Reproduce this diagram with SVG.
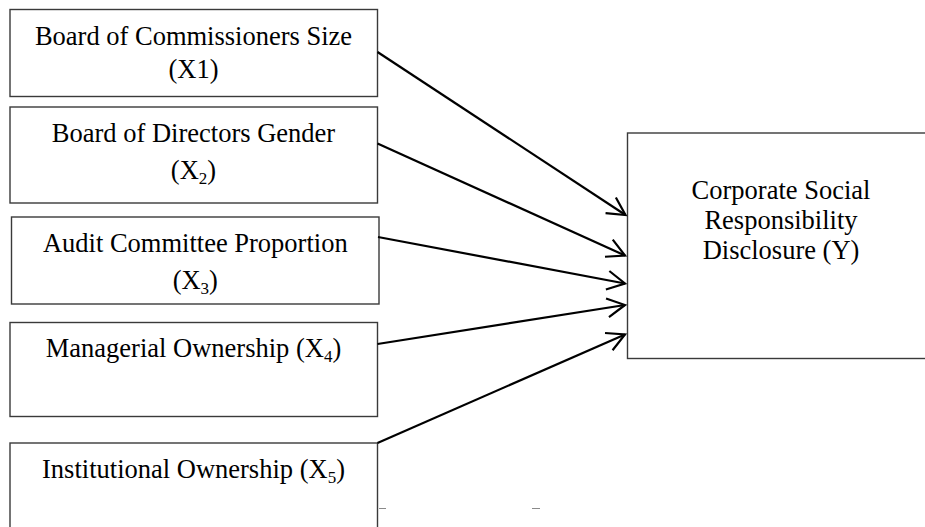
<svg xmlns="http://www.w3.org/2000/svg" width="925" height="527" viewBox="0 0 925 527">
  <style>
    .box { fill: #ffffff; stroke: #3a3a3a; stroke-width: 1.4; }
    .lbl { font-family: "Liberation Serif", "Times New Roman", serif; font-size: 26.5px; fill: #000; text-anchor: middle; }
    .sub { font-size: 17px; }
    .conn { stroke: #000; stroke-width: 2.2; fill: none; marker-end: url(#arr); }
    .mark { stroke: #8a8a8a; stroke-width: 1; }
  </style>
  <defs>
    <marker id="arr" markerUnits="userSpaceOnUse" viewBox="-22 -12 24 24" markerWidth="24" markerHeight="24" refX="0" refY="0" orient="auto" overflow="visible">
      <path d="M -17.7 -9.4 L 0 0 L -17.7 9.4" fill="none" stroke="#000" stroke-width="2.2"/>
    </marker>
  </defs>
  <rect width="925" height="527" fill="#ffffff"/>

  <g id="x1">
    <rect class="box" x="10" y="9.5" width="367.5" height="87"/>
    <text class="lbl" x="193.5" y="44.5">Board of Commissioners Size</text>
    <text class="lbl" x="193.5" y="78">(X1)</text>
  </g>
  <g id="x2">
    <rect class="box" x="10" y="107" width="367.5" height="96"/>
    <text class="lbl" x="193.5" y="142">Board of Directors Gender</text>
    <text class="lbl" x="193.5" y="178.5">(X<tspan class="sub" dy="5">2</tspan><tspan dy="-5">)</tspan></text>
  </g>
  <g id="x3">
    <rect class="box" x="11.5" y="217" width="367.5" height="87"/>
    <text class="lbl" x="195.3" y="252">Audit Committee Proportion</text>
    <text class="lbl" x="195.3" y="288.5">(X<tspan class="sub" dy="5">3</tspan><tspan dy="-5">)</tspan></text>
  </g>
  <g id="x4">
    <rect class="box" x="10" y="322.5" width="367.5" height="94"/>
    <text class="lbl" x="193.5" y="357">Managerial Ownership (X<tspan class="sub" dy="5">4</tspan><tspan dy="-5">)</tspan></text>
  </g>
  <g id="x5">
    <rect class="box" x="10" y="443" width="367.5" height="100"/>
    <text class="lbl" x="193.5" y="477.5">Institutional Ownership (X<tspan class="sub" dy="5">5</tspan><tspan dy="-5">)</tspan></text>
  </g>
  <g id="y">
    <rect class="box" x="627.5" y="133" width="310" height="225.5"/>
    <text class="lbl" x="781" y="198.5">Corporate Social</text>
    <text class="lbl" x="781" y="228.5">Responsibility</text>
    <text class="lbl" x="781" y="258.5">Disclosure (Y)</text>
  </g>

  <g id="connectors">
    <line class="conn" x1="377.5" y1="52" x2="625.5" y2="215"/>
    <line class="conn" x1="377.5" y1="143.5" x2="625" y2="255.5"/>
    <line class="conn" x1="378" y1="237" x2="625" y2="283.5"/>
    <line class="conn" x1="377.5" y1="344" x2="625" y2="305"/>
    <line class="conn" x1="377.5" y1="443" x2="625" y2="334.5"/>
  </g>

  <line class="mark" x1="379" y1="508.5" x2="386" y2="508.5"/>
  <line class="mark" x1="532" y1="508.5" x2="540" y2="508.5"/>
</svg>
